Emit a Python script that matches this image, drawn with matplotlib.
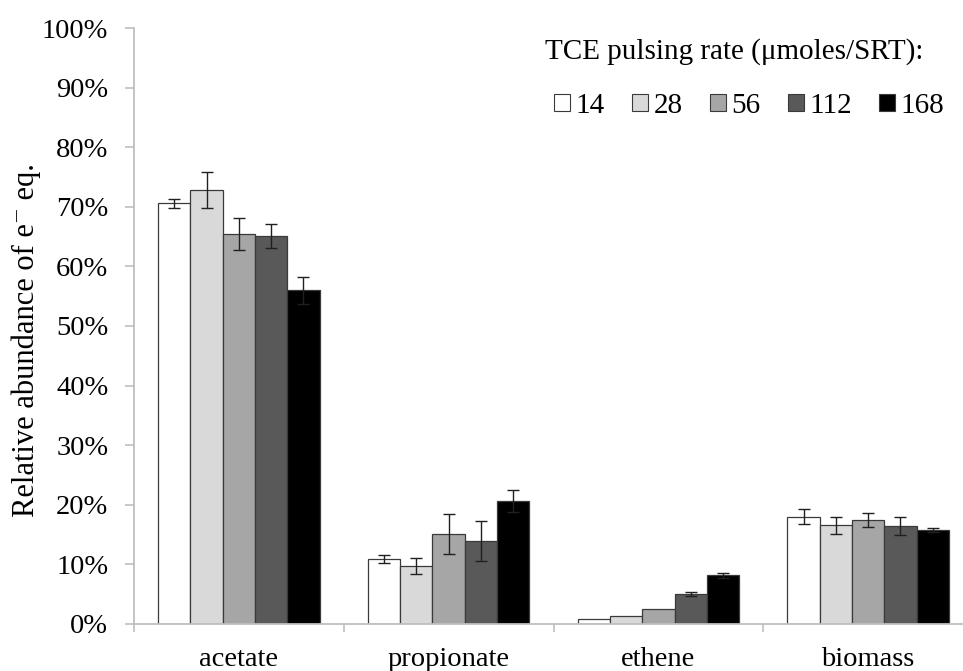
import matplotlib
matplotlib.use("Agg")
import matplotlib.pyplot as plt
import numpy as np
from matplotlib.patches import Patch

plt.rcParams['font.family'] = ['Liberation Serif', 'DejaVu Serif']

categories = ["acetate", "propionate", "ethene", "biomass"]
series_labels = ["14", "28", "56", "112", "168"]
values = {
    "14":  [70.6, 10.9, 0.8, 18.0],
    "28":  [72.8, 9.7, 1.3, 16.5],
    "56":  [65.4, 15.1, 2.4, 17.4],
    "112": [65.1, 13.9, 5.0, 16.4],
    "168": [56.0, 20.6, 8.1, 15.8],
}
errors = {
    "14":  [0.7, 0.7, np.nan, 1.2],
    "28":  [3.0, 1.4, np.nan, 1.5],
    "56":  [2.7, 3.4, np.nan, 1.2],
    "112": [2.0, 3.4, 0.35, 1.5],
    "168": [2.3, 1.9, 0.45, 0.35],
}
colors = ["#ffffff", "#d9d9d9", "#a6a6a6", "#595959", "#000000"]

FS = 20.5
fig = plt.figure(figsize=(9.63, 6.71), dpi=100)
ax = fig.add_axes([134/963, 47.3/671, 839/963, 595.4/671])

x = np.arange(len(categories))
w = 0.154
for j, s in enumerate(series_labels):
    ax.bar(x + (j - 2) * w, values[s], width=w, color=colors[j],
           edgecolor="#3a3a3a", linewidth=0.9, zorder=2)
    ax.errorbar(x + (j - 2) * w, values[s], yerr=errors[s], fmt="none",
                ecolor="#202020", elinewidth=1.0, capthick=1.0, capsize=4,
                zorder=3)

ax.set_xlim(-0.5, 3.5)
ax.set_ylim(0, 100)
ax.set_yticks(np.arange(0, 101, 10))
ax.set_yticklabels([f"{v}%" for v in range(0, 101, 10)], fontsize=FS)
ax.set_xticks(np.arange(-0.5, 3.6, 1.0))
ax.set_xticklabels([])
ax.set_xticks(x, minor=True)
ax.set_xticklabels(categories, minor=True, fontsize=FS)
ax.tick_params(axis='x', which='minor', length=0, pad=17)
ax.tick_params(axis='x', which='major', length=6, color="#bfbfbf", width=1.2)
ax.tick_params(axis='y', length=6.5, color="#bfbfbf", width=1.2, pad=12)

for sp in ["top", "right"]:
    ax.spines[sp].set_visible(False)
for sp in ["left", "bottom"]:
    ax.spines[sp].set_color("#bfbfbf")
    ax.spines[sp].set_linewidth(1.3)

ax.set_ylabel("Relative abundance of e\u207b eq.", fontsize=22)
ax.yaxis.set_label_coords((41 - 134) / 839, 1 - (340 - 28.3) / 595.4)

fig.text(545/963, 1 - 52/671, "TCE pulsing rate (\u03bcmoles/SRT):", fontsize=FS + 0.5,
         ha="left", va="center")
handles = [Patch(facecolor=c, edgecolor="#3a3a3a", linewidth=0.8) for c in colors]
fig.legend(handles, series_labels, ncol=5, frameon=False, fontsize=FS + 0.5,
           handlelength=0.55, handleheight=0.55, handletextpad=0.2,
           columnspacing=0.92, loc="center left",
           bbox_to_anchor=(554/963, 1 - 106/671), borderpad=0, borderaxespad=0)

fig.savefig("out.png", dpi=100)
